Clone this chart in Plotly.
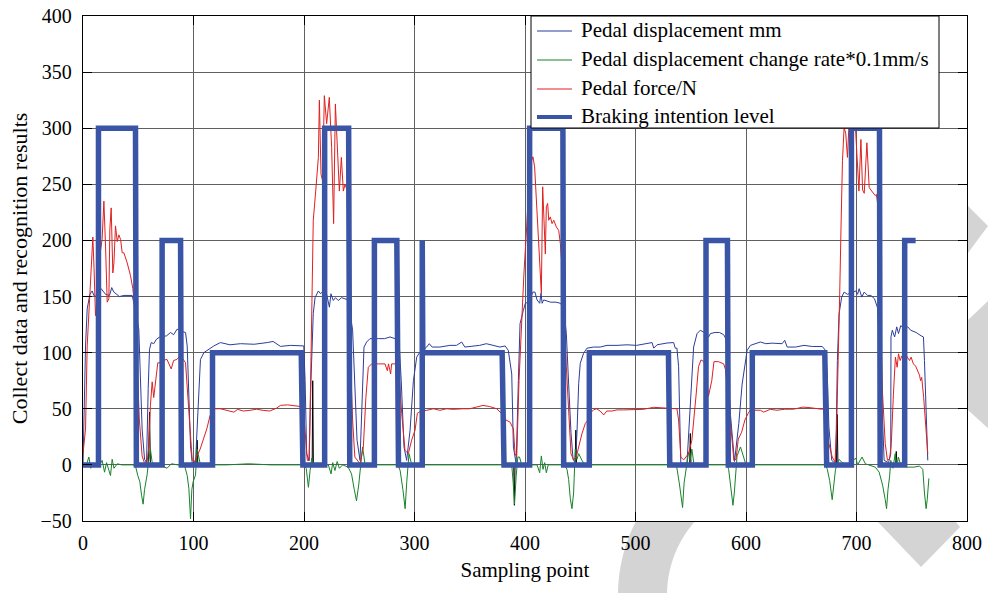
import numpy as np
import plotly.graph_objects as go

# ---------------- data ----------------
# Pedal displacement (mm)
disp_x = [0, 1.4, 2.3, 3.8, 6.2, 8.3, 9.8, 12, 16.4, 20.4, 24, 26, 27.9, 33, 37, 44.5, 47, 50.5, 52, 53.5,
          55.7, 57.5, 59, 60.2, 61.7, 64, 66.5, 69.5, 75.6, 79.2, 82, 85.2, 89, 92.8, 94.3, 95.8, 97.3, 98.8,
          101.8, 104, 106.3, 109.4, 113.9, 118.4, 124.4, 133, 142.5, 155, 166.7, 172, 178.7, 188, 199.8,
          201, 202.4, 204.5, 206.3, 208.4, 210, 213, 215, 217.5, 220.5, 223, 224.4, 226.5, 228.5, 231, 234,
          237, 240, 244, 246, 248, 250.7, 252.5, 254.3, 256.7, 259.7, 267.3, 273, 277.8, 282.4, 286, 288,
          290.5, 292.9, 296, 299, 302, 304.5, 311, 313.4, 316, 323, 332, 338, 342.7, 345.5, 359, 365, 377.4,
          382, 384.9, 388, 389.5, 392, 394, 395.5, 398.5, 400.3, 403, 407.2, 409, 410.9, 413.3, 414.5, 415.5,
          416.9, 420, 423, 428, 432, 435, 437.4, 439.5, 441.6, 443.5, 445.6, 447, 448.6, 450, 453, 456.1,
          462, 468, 474.2, 483.3, 492.3, 501, 510.4, 515, 516.5, 519.5, 528.5, 534.5, 536, 537.5, 539, 540,
          541, 546.6, 549.6, 551, 552.6, 555.7, 558.7, 562, 566.2, 567.7, 572, 576, 579.8, 582, 584, 586,
          589.6, 593.5, 596.5, 599.5, 601, 604, 608.5, 613, 618, 623.6, 632.7, 635, 637.3, 644.9, 652.5,
          660, 669, 672, 673.6, 675, 677.6, 681.2, 682.7, 684.2, 686.6, 688.8, 691.8, 695, 699.4, 701,
          702.4, 704.8, 707, 710, 713, 716.3, 719, 722, 725, 729, 731, 731.2, 732.4, 734.5, 736.4, 738,
          740, 743, 746.4, 749, 754, 758.5, 760.6, 761.5, 763, 764.5]
disp_y = [0, 62, 106, 139, 152, 155, 151, 150, 157, 152, 151, 158, 154, 150, 151, 151, 140, 121, 74, 32,
          5, 2, 68, 103, 109, 108, 112, 114, 115, 118, 116, 121, 119, 118, 106, 62, 17, 2,
          2, 47, 94, 100, 103, 106, 109, 107, 108, 107.5, 109, 110, 105.6, 106.5, 106,
          75, 10, 4, 75, 135, 149, 155, 152.5, 155, 152, 140.5, 152.5, 146.5, 149, 146.5, 149,
          148, 147, 120, 75, 22, 4, 60, 105, 109.5, 112.5, 112.5, 112.5, 114, 112.5, 110, 75,
          16, 4, 31, 75, 96, 100, 105, 108, 105, 105, 106.5, 106.5, 109.5, 105, 106.5, 108, 105,
          106, 102, 81, 16, 1, 75, 125.7, 137.6, 144, 145, 154, 154, 147, 144, 153, 144,
          147, 146, 145, 145, 144, 140, 117, 72, 29, 5, 1.5, 28, 72.7, 90.5, 99.4, 104,
          105, 105, 106.5, 106.5, 107, 106.5, 108, 109, 104, 107, 108.6, 109, 104, 104, 87.5, 28,
          1.5, 1.5, 58, 87.5, 105, 117, 120, 118, 114, 117, 118, 118, 116, 112, 80, 44,
          3, 37, 72, 93, 102, 106.5, 108, 109.5, 108, 108.5, 108, 111, 105, 105, 106.5,
          105.5, 105.5, 102, 78, 34, 4, 1, 93, 134.5, 149.5, 154, 152, 153, 155, 152,
          157, 149.5, 154, 151, 151, 148, 140, 80, 4, 2, 10, 114, 120, 114, 123, 117,
          124, 122, 123, 120, 118, 115, 114, 93, 49, 4]

# Pedal displacement change rate (x0.1 mm/s)
rate_x = [0, 3, 5.3, 7, 9, 15, 17.3, 19.5, 21.3, 23.4, 24.9, 26.4, 28, 31, 35, 45, 47.5, 49.6, 51.4, 53,
          54.4, 55.7, 56.9, 58, 59.6, 61, 62.5, 65, 70, 76, 80, 85, 92, 94.3, 95.8, 97.3, 98.5, 99.7,
          101.8, 103.3, 104.8, 106.3, 130, 150, 170, 200, 202, 204, 205.5, 207, 209, 222, 224.5, 226, 228,
          230, 232, 235, 240, 243, 245.5, 247.5, 249.5, 251.5, 253, 255, 257, 285, 287, 289.5, 291.5,
          293, 295, 297, 300, 340, 388, 389.3, 390.5, 392, 393.5, 395, 397, 410.9, 413.3, 414.8,
          416.3, 417.8, 419.3, 421, 436, 438, 439.5, 441, 442.5, 444, 445.5, 447, 448.6, 451.6, 454,
          500, 537, 539.6, 542.6, 544, 546, 548, 549.6, 551, 553, 583, 584.3, 586.4, 588.2, 589.4,
          591.9, 595, 597.9, 600, 640, 672, 673.6, 675.7, 678, 679.5, 681, 684.2, 687, 692, 699.4,
          701, 705, 708, 717, 720.5, 723.6, 726, 727.2, 728.5, 730, 731, 733, 735, 736.5, 737.9, 740,
          746, 752, 757, 760, 761.5, 763, 764, 765.5]
rate_y = [0, 0, 7, -3, 0, 0, 4, -6.5, 2, -5, -9.5, 5, -3, 1, 0, 0, -1, -9.5, -15, -27,
          -35, -22, -15, -9, 5, 14, 3, 0, 0, -3, 1, 0, -1, -9.5, -21, -48, -22, -15,
          -9, 14, 5, 0, 0, 1, 0, 0, -3, -20, -5, 6, 0, 0, -8, 2, -5,
          3, -3, 0, -2, -8, -22, -32, -18, 6, 16, 2, 0, 0, -5, -22, -39,
          -15, 10, 2, 0, 0, 0, -16, -35, -10, 7, 7, 0, 0, -7, 8,
          -4, 2, -7, 0, 0, -4, -13, -30, -39, -25, 14, 5, 10, 4, 0,
          0, 0, -16, -38, -16, 0, 11, 5, 14, 0, 0, -4, -19, -36, -25,
          8, 16, 6, 0, 0, 0, -4, -14, -31, -19, -4, 5, 2, 0, 6,
          0, 7, 1, -2, -6.5, -18, -31, -39, -22, -10, 4, -3, 10, -2, 7, 0,
          -2, -2, -1, -4, -25, -39, -31, -12]

# Pedal force (N)
force_x = [0, 2.3, 3.8, 6.8, 8.9, 10, 11.3, 13, 15, 17.3, 18.9, 20.4, 21.9, 23.4, 24.3, 25.5, 27, 28,
           29.4, 31, 32.4, 34, 35.5, 37, 40, 43, 45.1, 47, 49, 51, 53.5, 55.5, 58, 59.6, 61, 62.6, 64,
           65.6, 67.7, 70, 72, 76, 78.6, 79.8, 82, 85, 87.5, 90, 92.8, 94.9, 96.7, 98.8, 100.5, 103, 106,
           109, 112, 115, 118.4, 124.4, 130.5, 136.5, 140, 145, 151, 157, 163, 169, 175, 178.7, 185, 191,
           197, 199.4, 200.9, 203, 204.8, 206.9, 208.4, 210.6, 213, 213.9, 215.4, 216.9, 218.4, 220.5,
           222.9, 225, 226.8, 228.4, 230.2, 232, 233.8, 235.6, 237.1, 239, 241.6, 244, 246, 250.7, 253.7,
           256, 258.2, 261.2, 267.3, 273.3, 275.4, 276.5, 278.4, 279.3, 283.9, 286, 288.4, 291.4, 294.4,
           297.4, 300.5, 302.6, 306, 311, 317, 323, 329, 335, 344, 350, 356, 362, 368, 374.4, 379, 382.8,
           386.5, 389.5, 391, 392.5, 394.6, 397, 399, 401.5, 403, 405.5, 407.2, 408.7, 410.9, 413.3, 414.8,
           416, 417, 418.4, 419.3, 420.5, 421.5, 422.9, 424.5, 426, 428.4, 430.5, 432, 434, 437.4, 439.5,
           441.6, 444, 446.5, 448.6, 451.6, 454.6, 457, 460, 462, 464.6, 468, 471.2, 474, 478.8, 483.3,
           489, 498.3, 507, 516.4, 525, 537.5, 539, 541, 543.6, 546, 548, 551, 553, 555, 557, 559.3, 562,
           564, 566, 569, 571, 575, 579.8, 581.4, 584, 586, 589, 591, 593, 596, 599, 602, 604, 607.7,
           613, 616, 622, 628, 635, 643, 651.5, 658, 664, 668.3, 670.6, 672.7, 675, 678, 680.6, 682,
           683.6, 684.8, 686, 687.3, 688.8, 690.3, 691.8, 693.3, 694.5, 696, 698, 699.2, 702.2, 704,
           705.5, 707, 709.4, 711.5, 714.5, 716.9, 718, 719.5, 721, 723.6, 726, 728, 730, 731.5, 733.4,
           735.2, 736.8, 738, 739.5, 741, 744, 746.4, 748, 749.4, 751.5, 753.5, 755.4, 757, 758, 759,
           760.8, 762.4, 764.5]
force_y = [10, 32, 106, 171, 203, 175, 133, 150, 185, 201, 235, 195, 145, 148, 210, 229, 171, 180,
           213, 199, 205, 201, 189, 189, 180, 168.5, 157, 140, 90, 40, 8, 2, 2, 17, 53, 74, 60,
           74, 91, 91, 93, 94, 88, 85.5, 93, 94, 97, 95, 91, 62, 32, 5, 2, 8, 14,
           23, 32, 44, 50, 50, 48.6, 47, 49.5, 48, 48.6, 49.6, 48.6, 48, 50.5, 53, 53.5, 53,
           52, 50, 31, 4, 4, 135, 218, 244, 274, 325, 259, 253, 329, 304,
           327.5, 283, 215, 321.6, 274, 244, 274, 244, 250, 245, 105, 40, 7, 1, 16,
           60, 87, 90, 90, 90, 84, 90, 81, 90, 90, 80, 46, 13, 10,
           22, 31, 46, 48, 48.6, 50, 48.6, 50, 49.5, 50, 50, 51.5, 53, 52, 50, 45.6, 40,
           38, 32, 10, 7, 75, 135, 170, 212, 240, 270, 274.5, 265.6, 227, 176.6, 152.8,
           247.8, 222, 188, 230, 233, 218, 221, 215, 218, 212, 209, 197, 170, 87.5, 43,
           10, 4.5, 7.4, 16, 28, 37, 40, 47, 49, 50, 48, 44.5, 48, 48, 49,
           49, 49.5, 49.5, 51.3, 50.5, 50, 40, 7, 4.5, 7, 10, 22, 40, 64, 87.5, 93.5, 92,
           80, 61, 75, 92, 92, 90, 85, 60, 37, 4, 5, 23, 29, 40, 46, 49, 48.7,
           48.7, 47, 49.5, 48.7, 49.6, 49.6, 51.5, 51, 50, 49.6, 50, 34, 19, 7, 2.6, 34,
           93, 152, 212, 271, 301, 295, 274, 301, 330, 320, 330, 298, 244, 290,
           245, 242, 287, 247, 243, 240, 241, 230, 150, 63, 19, 4, 5.6, 19, 63,
           96, 87, 99, 93, 97, 99, 96, 93, 96, 90, 88, 84, 80, 75, 78,
           60, 40, 10]

# Braking intention level
brake_x = [0, 14, 14, 47.5, 48.3, 71.6, 71.6, 88.3, 89, 117.2, 117.2, 197.5, 199, 218.7, 218.7, 240.4,
           241.4, 263.7, 263.7, 284, 285.5, 307, 307, 307.5, 379.3, 381, 404.2, 404.2, 434.3, 435,
           458.2, 458.2, 529.8, 531, 563.8, 563.8, 583.2, 584, 605.7, 605.7, 671.3, 673, 695.4, 695.4,
           720.8, 721.4, 743.6, 743.6, 753.5]
brake_y = [0, 0, 300, 300, 0, 0, 200, 200, 0, 0, 100, 100, 0, 0, 300, 300,
           0, 0, 200, 200, 0, 0, 200, 100, 100, 0, 0, 300, 300, 0,
           0, 100, 100, 0, 0, 200, 200, 0, 0, 100, 100, 0, 0, 300,
           300, 0, 0, 200, 200]

# Unlabelled auxiliary signal (short black spikes at pedal release / re-apply)
aux_x = [59.2, 60.2, 61.0, None, 102.8, 103.3, 103.9, None, 207.4, 207.9, 208.5, None,
         389.8, 390.4, 391.0, None, 445.4, 446.0, 446.6, None, 549.0, 549.6, 550.2, None,
         681.8, 682.5, 683.2, None, 735.4, 736.0, 736.6]
aux_y = [0, 47, 0, None, 0, 22, 0, None, 0, 75, 0, None,
         0, -36, 0, None, 0, 31, 0, None, 0, 28, 0, None,
         0, 45, 0, None, 0, 12, 0]

x_ticks = [0, 100, 200, 300, 400, 500, 600, 700, 800]
y_ticks = [-50, 0, 50, 100, 150, 200, 250, 300, 350, 400]

series_names = ["Pedal displacement mm", "Pedal displacement change rate*0.1mm/s",
                "Pedal force/N", "Braking intention level"]

# ---------------- figure ----------------
SERIF = "Liberation Serif, DejaVu Serif, Noto Serif, Times New Roman, Times, serif"
W, H = 988, 593
ML, MR, MT, MB = 83, 21, 16, 72
PW, PH = W - ML - MR, H - MT - MB

styles = [dict(color="#2c3d9c", width=1), dict(color="#17822a", width=1),
          dict(color="#e02020", width=1), dict(color="#3a54a6", width=5.5)]

fig = go.Figure()
fig.add_trace(go.Scatter(x=aux_x, y=aux_y, mode="lines", line=dict(color="black", width=1),
                         showlegend=False, hoverinfo="skip"))
for (xs, ys_), name, st in zip([(disp_x, disp_y), (rate_x, rate_y), (force_x, force_y),
                                (brake_x, brake_y)], series_names, styles):
    fig.add_trace(go.Scatter(x=xs, y=ys_, mode="lines", name=name, line=st, showlegend=False))


def to_paper(px, py):
    """Convert page pixel position to paper coordinates."""
    return (px - ML) / PW, (H - MB - py) / PH


def poly_path(points):
    pts = [to_paper(px, py) for px, py in points]
    return "M " + " L ".join(f"{x:.4f},{y:.4f}" for x, y in pts) + " Z"


# light grey decorative background marks around the plotting frame
deco = [
    [(968, 206), (988, 226), (968, 253)],
    [(968, 320), (990, 299), (990, 430), (968, 410)],
    [(877, 521), (955, 521), (960, 527), (921, 567)],
]
cx, cy, r_out, r_in = 778, 595, 160, 111
yy = np.linspace(521, 593, 25)
outer = [(cx - np.sqrt(r_out ** 2 - (y - cy) ** 2), y) for y in yy]
inner = [(cx - np.sqrt(r_in ** 2 - (y - cy) ** 2), y) for y in yy[::-1]]
deco.append(outer + inner)

shapes = [dict(type="path", xref="paper", yref="paper", path=poly_path(p),
               fillcolor="#d4d4d4", line=dict(width=0), layer="below") for p in deco]

# legend box, drawn on top of the traces
bx0, by0 = to_paper(531, 16)
bx1, by1 = to_paper(939, 128)
shapes.append(dict(type="rect", xref="paper", yref="paper", x0=bx0, x1=bx1, y0=by1, y1=by0,
                   fillcolor="white", line=dict(color="black", width=1), layer="above"))
annotations = []
row_py = [31, 60, 89, 117]
legend_line_w = [1.2, 1.2, 1.2, 4]
for name, st, py, lw in zip(series_names, styles, row_py, legend_line_w):
    lx0, ly = to_paper(537, py)
    lx1, _ = to_paper(572, py)
    shapes.append(dict(type="line", xref="paper", yref="paper", x0=lx0, x1=lx1, y0=ly, y1=ly,
                       line=dict(color=st["color"], width=lw), layer="above"))
    tx, ty = to_paper(579, py - 1)
    annotations.append(dict(xref="paper", yref="paper", x=tx, y=ty, xanchor="left", yanchor="middle",
                            text=name, showarrow=False,
                            font=dict(family=SERIF, size=21, color="black")))

axis_common = dict(
    showline=True, linecolor="black", linewidth=1.3, mirror="ticks",
    ticks="inside", ticklen=9, tickcolor="black", tickwidth=1,
    showgrid=True, gridcolor="#606060", gridwidth=0.8, automargin=False,
    zeroline=False, tickfont=dict(family=SERIF, size=20, color="black"),
)

fig.update_layout(
    width=W, height=H,
    margin=dict(l=ML, r=MR, t=MT, b=MB),
    paper_bgcolor="white", plot_bgcolor="white",
    font=dict(family=SERIF, color="black"),
    shapes=shapes,
    annotations=annotations,
    showlegend=False,
    xaxis=dict(range=[0, 800], tickvals=x_ticks, ticklabelstandoff=4,
               title=dict(text="Sampling point", font=dict(family=SERIF, size=21), standoff=9),
               **axis_common),
    yaxis=dict(range=[-50, 400], tickvals=y_ticks, ticklabelstandoff=6,
               title=dict(text="Collect data and recognition results",
                          font=dict(family=SERIF, size=22), standoff=6),
               **axis_common),
)

fig.write_html("out.html")
